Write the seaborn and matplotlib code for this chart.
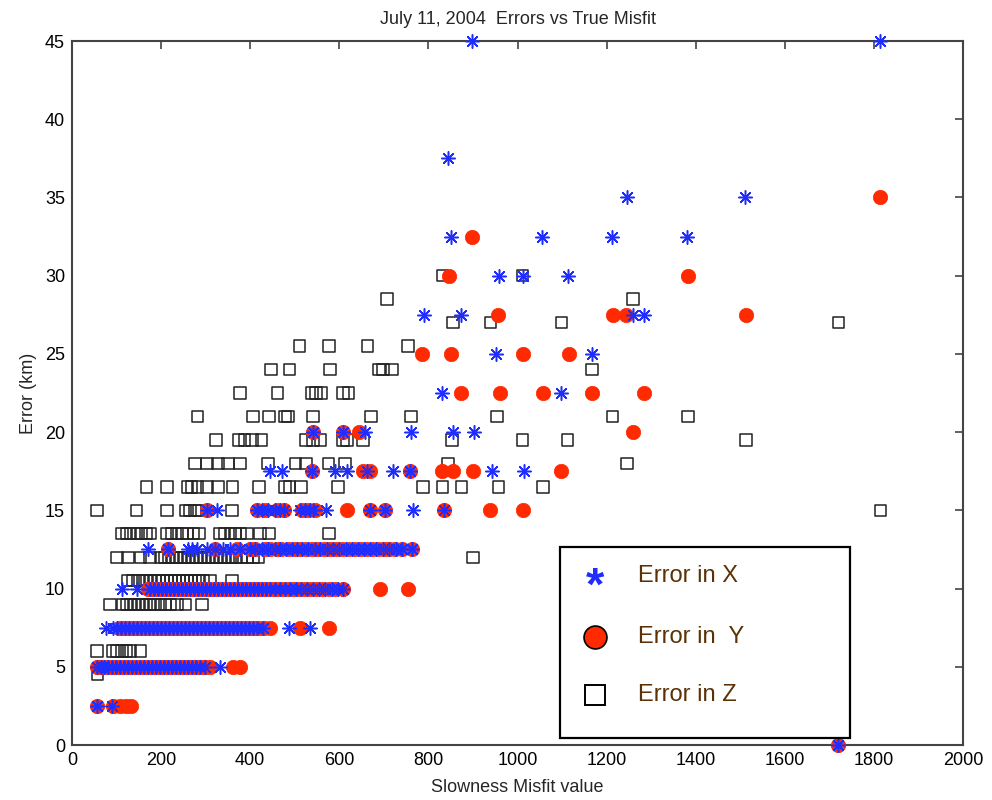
import matplotlib
matplotlib.use("Agg")
import matplotlib.pyplot as plt
from matplotlib.lines import Line2D
from matplotlib.patches import Rectangle
import seaborn as sns
import pandas as pd

# ---------------- data (misfit values at each error level) ----------------
x_levels = [0, 2.5, 5, 7.5, 10, 12.5, 15, 17.5, 20, 22.5, 25, 27.5, 30, 32.5, 35, 37.5, 45]
x_misfits = [
    [1720],
    [56, 90],
    [56, 64, 72, 81, 90, 99, 108, 117, 126, 135, 144, 153, 162, 171, 180, 189, 198, 207, 216,
     225, 234, 243, 252, 261, 270, 279, 288, 299, 332],
    [76, 92, 101, 110, 119, 128, 137, 146, 155, 164, 173, 182, 191, 200, 209, 218, 227, 236, 245,
     254, 263, 272, 281, 290, 299, 308, 317, 326, 335, 344, 353, 362, 371, 380, 389, 398, 407,
     416, 429, 487, 534],
    [112, 146, 175, 184, 193, 202, 211, 220, 229, 238, 247, 256, 265, 274, 283, 292, 301, 310,
     319, 328, 337, 346, 355, 364, 373, 382, 391, 400, 409, 418, 427, 436, 445, 455, 466, 478,
     490, 502, 515, 528, 541, 555, 569, 583, 596, 608],
    [171, 215, 260, 269, 281, 303, 321, 339, 355, 377, 400, 411, 426, 440, 455, 467, 480, 494,
     505, 516, 530, 545, 557, 572, 585, 600, 615, 628, 642, 655, 669, 683, 698, 712, 727, 740, 763],
    [303, 325, 415, 426, 440, 456, 467, 476, 512, 523, 534, 541, 570, 669, 703, 765, 835],
    [444, 471, 539, 590, 617, 662, 721, 759, 943, 1015],
    [541, 608, 658, 761, 855, 902],
    [831, 1098],
    [952, 1167],
    [790, 873, 1259, 1284],
    [958, 1012, 1113],
    [851, 1055, 1212, 1380],
    [1246, 1511],
    [844],
    [898, 1813],
]

y_levels = [0, 2.5, 5, 7.5, 10, 12.5, 15, 17.5, 20, 22.5, 25, 27.5, 30, 32.5, 35]
y_misfits = [
    [1720],
    [56, 92, 108, 121, 132],
    [56, 63, 70, 78, 86, 94, 102, 110, 118, 127, 136, 145, 154, 163, 172, 181, 190, 199, 208,
     217, 226, 235, 244, 253, 262, 271, 280, 289, 298, 310, 362, 377],
    [105, 114, 123, 132, 141, 150, 159, 168, 177, 186, 195, 204, 213, 222, 231, 240, 249, 258,
     267, 276, 285, 294, 303, 312, 321, 330, 339, 348, 357, 366, 375, 384, 393, 402, 411, 420,
     431, 444, 512, 577],
    [171, 180, 189, 198, 207, 216, 225, 234, 243, 252, 261, 270, 279, 288, 297, 306, 315, 324,
     333, 342, 351, 360, 369, 378, 387, 396, 405, 414, 423, 432, 441, 450, 460, 472, 484, 496,
     508, 521, 534, 548, 562, 576, 590, 608, 691, 754],
    [215, 321, 370, 400, 411, 433, 444, 460, 470, 485, 498, 512, 525, 539, 552, 566, 580, 592,
     605, 620, 633, 646, 660, 673, 687, 700, 712, 725, 740, 763],
    [303, 415, 433, 460, 476, 516, 530, 545, 617, 669, 703, 835, 938, 1012],
    [539, 653, 669, 759, 831, 855, 900, 1098],
    [541, 608, 644, 1259],
    [873, 961, 1057, 1167, 1284],
    [786, 851, 1012, 1116],
    [956, 1214, 1243, 1513],
    [846, 1382],
    [898],
    [1813],
]

z_levels = [4.5, 6, 9, 10.5, 12, 13.5, 15, 16.5, 18, 19.5, 21, 22.5, 24, 25.5, 27, 28.5, 30]
z_misfits = [
    [58],
    [56, 92, 101, 112, 123, 132, 153],
    [85, 114, 123, 132, 141, 150, 159, 168, 177, 186, 198, 209, 220, 236, 254, 292],
    [126, 137, 148, 159, 168, 177, 186, 195, 204, 213, 222, 231, 240, 249, 258, 267, 276, 285,
     294, 310, 359],
    [101, 126, 153, 175, 198, 207, 216, 225, 234, 243, 252, 261, 270, 279, 288, 297, 306, 315,
     324, 333, 342, 351, 360, 369, 380, 393, 406, 418, 900],
    [112, 123, 132, 144, 155, 166, 175, 213, 224, 236, 247, 258, 272, 285, 332, 343, 355, 366,
     377, 393, 422, 442, 577],
    [56, 144, 213, 254, 265, 276, 285, 359, 1815],
    [168, 213, 260, 269, 281, 303, 328, 361, 420, 478, 489, 514, 597, 788, 831, 875, 958, 1057],
    [276, 303, 328, 350, 377, 440, 501, 525, 575, 613, 844, 1246],
    [323, 373, 388, 404, 426, 525, 541, 557, 608, 617, 653, 853, 1012, 1113, 1513],
    [281, 406, 442, 478, 485, 541, 671, 761, 954, 1214, 1383],
    [377, 462, 539, 548, 559, 608, 620],
    [447, 489, 579, 689, 698, 718, 1167],
    [510, 577, 664, 754],
    [855, 940, 1098, 1721],
    [707, 1259],
    [831, 1012],
]

x_ticks = [0, 200, 400, 600, 800, 1000, 1200, 1400, 1600, 1800, 2000]
y_ticks = [0, 5, 10, 15, 20, 25, 30, 35, 40, 45]
legend_labels = ["Error in X", "Error in  Y", "Error in Z"]


def to_frame(levels, misfits):
    rows = []
    for lev, ms in zip(levels, misfits):
        for m in ms:
            rows.append((m, lev))
    return pd.DataFrame(rows, columns=["misfit", "error"])


dx = to_frame(x_levels, x_misfits)
dy = to_frame(y_levels, y_misfits)
dz = to_frame(z_levels, z_misfits)

# ---------------- style ----------------
sns.set_style("white")
plt.rcParams["font.family"] = ["Liberation Sans Narrow", "Liberation Sans", "DejaVu Sans"]

BLUE = "#1f2dff"
RED = "#ff2a00"
BROWN = "#5a3205"

fig = plt.figure(figsize=(9.92, 8.0), dpi=100)
ax = fig.add_axes([72 / 992, 55 / 800, 891 / 992, 704 / 800])

sns.scatterplot(data=dz, x="misfit", y="error", ax=ax, marker="s", s=66,
                facecolor="none", edgecolor="#222222", linewidth=1.1, clip_on=False, zorder=3)
sns.scatterplot(data=dy, x="misfit", y="error", ax=ax, marker="o", s=108,
                color=RED, edgecolor=RED, linewidth=0.5, clip_on=False, zorder=4)
sns.scatterplot(data=dx, x="misfit", y="error", ax=ax, marker=(8, 2, 0), s=95,
                color=BLUE, edgecolor=BLUE, linewidth=1.1, clip_on=False, zorder=5)

ax.set_xlim(0, 2000)
ax.set_ylim(0, 45)
ax.set_xticks(x_ticks)
ax.set_yticks(y_ticks)
ax.tick_params(direction="in", length=6, width=1.2, colors="#444444", labelcolor="black",
               labelsize=13, top=True, right=True, pad=5)
for sp in ax.spines.values():
    sp.set_color("#444444")
    sp.set_linewidth(1.5)
    sp.set_visible(True)

ax.set_xlabel("Slowness Misfit value", fontsize=13, labelpad=7)
ax.set_ylabel("Error (km)", fontsize=13, labelpad=6)
ax.set_title("July 11, 2004  Errors vs True Misfit", fontsize=13, pad=12)

# ---------------- legend box ----------------
fig.add_artist(Rectangle((560 / 992, 62 / 800), 290 / 992, 191 / 800, transform=fig.transFigure,
                         facecolor="white", edgecolor="black", linewidth=1.6, zorder=10))
rows_y = [1 - 576 / 800, 1 - 637 / 800, 1 - 695 / 800]
mx = 595 / 992
tx = 638 / 992
fig.text(mx, rows_y[0] - 0.015, "*", color=BLUE, fontsize=34, fontweight="bold",
         ha="center", va="center", family=["Liberation Sans", "DejaVu Sans"], zorder=11)
fig.add_artist(Line2D([mx], [rows_y[1]], transform=fig.transFigure, marker="o", markersize=16.5,
                      markerfacecolor=RED, markeredgecolor="black", markeredgewidth=1.2, zorder=11))
fig.add_artist(Line2D([mx], [rows_y[2]], transform=fig.transFigure, marker="s", markersize=15,
                      markerfacecolor="white", markeredgecolor="black", markeredgewidth=1.4, zorder=11))
for yy, lab in zip(rows_y, legend_labels):
    fig.text(tx, yy, lab, color=BROWN, fontsize=17, ha="left", va="center",
             family=["Liberation Sans", "DejaVu Sans"], zorder=11)

fig.savefig("out.png", dpi=100, facecolor="white")
